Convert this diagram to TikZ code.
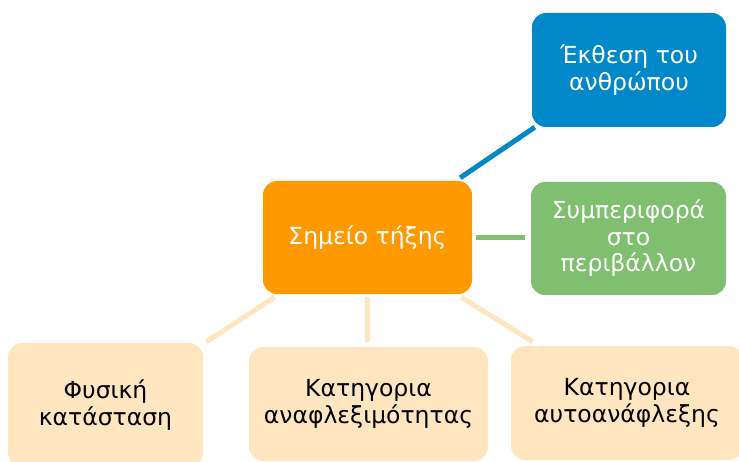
\documentclass[tikz,border=0pt]{standalone}
\usepackage{fontspec}
\setmainfont{DejaVu Sans}
\definecolor{meltorange}{RGB}{255,153,0}
\definecolor{expoblue}{RGB}{0,136,200}
\definecolor{envgreen}{RGB}{127,191,111}
\definecolor{catbeige}{RGB}{255,230,192}

\begin{document}
\begin{tikzpicture}[x=1pt,y=-1pt,
        box/.style={rounded corners=14pt, inner sep=0pt, align=center, font=\fontsize{23.5}{26.5}\selectfont},
        link/.style={line width=5pt}]
        \useasboundingbox (0,0) rectangle (739,462);

        % Centre box
        \node[box, fill=meltorange, text=white, minimum width=209pt, minimum height=113pt] (melt) at (367.5,237.5) {Σημείο τήξης};

        % Right column
        \node[box, fill=expoblue, text=white, minimum width=194pt, minimum height=114pt] (expo) at (629,70) {Έκθεση του\\ανθρώπου};
        \node[box, fill=envgreen, text=white, minimum width=195pt, minimum height=113pt] (env) at (628.5,238.5) {Συμπεριφορά\\στο\\περιβάλλον};

        % Bottom row
        \node[box, fill=catbeige, minimum width=195pt, minimum height=124pt] (phys) at (105.5,405) {Φυσική\\κατάσταση};
        \node[box, fill=catbeige, minimum width=239pt, minimum height=114pt] (flam) at (368.5,404) {Κατηγορια\\αναφλεξιμότητας};
        \node[box, fill=catbeige, minimum width=232pt, minimum height=114pt] (auto) at (627,403) {Κατηγορια\\αυτοανάφλεξης};

        % Connectors
        \draw[link, expoblue] ([shift={(-12,-3)}]melt.north east) -- ([shift={(3,0)}]expo.south west);
        \draw[link, envgreen, shorten <=4pt, shorten >=6pt] (melt.east) -- (melt.east -| env.west);
        \draw[link, catbeige] ([shift={(12,3)}]melt.south west) -- ([shift={(3,-1)}]phys.north east);
        \draw[link, catbeige, shorten <=3pt, shorten >=5pt] (melt.south) -- (melt.south |- flam.north);
        \draw[link, catbeige] ([shift={(-11,3)}]melt.south east) -- ([shift={(22,-4)}]auto.north west);
    \end{tikzpicture}
\end{document}
